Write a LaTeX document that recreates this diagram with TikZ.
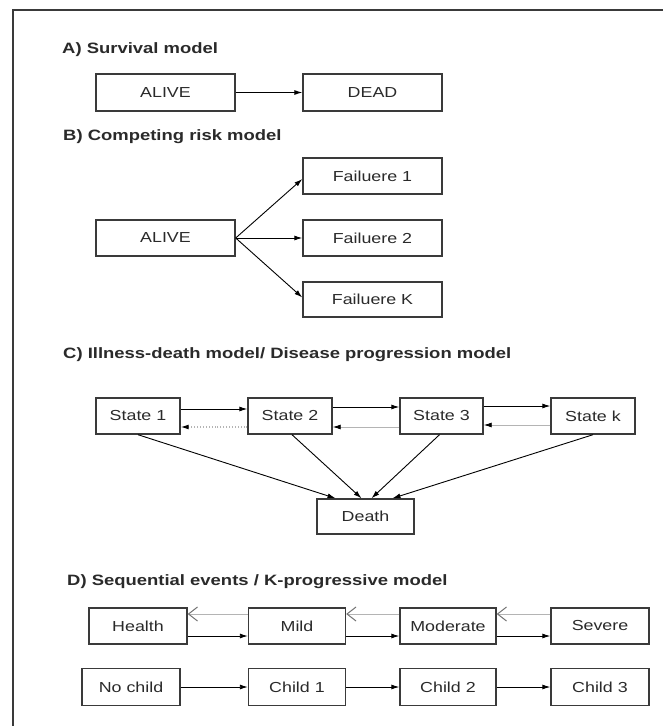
\documentclass[tikz,border=0pt]{standalone}
\usepackage{fontspec}
\newfontfamily\lab{Liberation Sans}[FakeStretch=1.23]
\usetikzlibrary{arrows.meta}
\definecolor{edge}{HTML}{3A3A3A}
\definecolor{ink}{HTML}{2A2A2A}
\definecolor{back}{HTML}{B4B4B4}
\tikzset{
  box/.style={draw=edge, line width=1.4pt, minimum height=36pt, inner sep=0pt,
    text=ink, font=\lab\fontsize{14.5}{17}\selectfont},
  ttl/.style={anchor=west, inner sep=0pt, text=ink,
    font=\lab\bfseries\fontsize{15}{18}\selectfont},
  fwd/.style={draw=black, line width=0.9pt, -{Latex[length=8pt,width=5pt]}},
  bck/.style={draw=back, line width=0.9pt, -{Latex[length=8pt,width=5pt,color=black]}},
  bckdot/.style={bck, dotted, line width=1.2pt},
  chev/.style={draw=back, line width=0.9pt, -{Straight Barb[length=9pt,width=14pt,line width=1pt,color=black!55]}}
}
\begin{document}
\begin{tikzpicture}[x=1pt,y=-1pt]
\useasboundingbox (0,0) rectangle (663,726);
\fill[white] (0,0) rectangle (663,726);
% frame
\draw[line width=2pt, edge] (12.5,726) -- (12.5,9.5) -- (663,9.5);

% A
\node[ttl] (ta) at (62,50) {A) Survival model};
\node[box, minimum width=139pt, minimum height=37pt] (alivea) at (165.5,92.5) {ALIVE};
\node[box, minimum width=139pt, minimum height=37pt] (dead) at (372.5,92.5) {DEAD};
\draw[fwd] (alivea.east) -- (dead.west);

% B
\node[ttl] (tb) at (63,137) {B) Competing risk model};
\node[box, minimum width=139pt] (aliveb) at (165.5,238) {ALIVE};
\node[box, minimum width=139pt] (f1) at (372.5,176) {Failuere 1};
\node[box, minimum width=139pt] (f2) at (372.5,238) {Failuere 2};
\node[box, minimum width=139pt, minimum height=35pt] (fk) at (372.5,299.5) {Failuere K};
\draw[fwd] (aliveb.east) -- ([yshift=-3pt]f1.west);
\draw[fwd] (aliveb.east) -- (f2.west);
\draw[fwd] (aliveb.east) -- ([yshift=2pt]fk.west);

% C
\node[ttl] (tc) at (63,355) {C) Illness-death model/ Disease progression model};
\node[box, minimum width=84pt] (s1) at (138,416) {State 1};
\node[box, minimum width=84pt] (s2) at (290,416) {State 2};
\node[box, minimum width=83pt] (s3) at (441.5,416) {State 3};
\node[box, minimum width=84pt] (sk) at (593,416) {State k};
\node[box, minimum width=97pt, minimum height=35pt] (death) at (365.5,516.5) {Death};
\draw[fwd] ([yshift=7pt]s1.east) -- ([yshift=7pt]s2.west);
\draw[fwd] ([yshift=9pt]s2.east) -- ([yshift=9pt]s3.west);
\draw[fwd] ([yshift=10pt]sk.west -| s3.east) -- ([yshift=10pt]sk.west);
\draw[bckdot] ([yshift=-11pt]s2.west) -- ([yshift=-11pt]s1.east);
\draw[bck] ([yshift=-11pt]s3.west) -- ([yshift=-11pt]s2.east);
\draw[bck] ([yshift=-9pt]sk.west) -- ([yshift=-9pt]s3.east);
\draw[fwd] (s1.south) -- ([xshift=-30pt]death.north);
\draw[fwd] ([xshift=2pt]s2.south) -- ([xshift=-4pt]death.north);
\draw[fwd] ([xshift=-2pt]s3.south) -- ([xshift=6pt]death.north);
\draw[fwd] (sk.south) -- ([xshift=27pt]death.north);

% D
\node[ttl] (td) at (67,582) {D) Sequential events / K-progressive model};
\node[box, minimum width=98pt] (health) at (138,626) {Health};
\node[box, minimum width=97pt] (mild) at (297,626) {Mild};
\node[box, minimum width=96pt] (moderate) at (448,626) {Moderate};
\node[box, minimum width=98pt] (severe) at (600,626) {Severe};
\draw[fwd] ([yshift=-10pt]health.east) -- ([yshift=-10pt]mild.west);
\draw[fwd] ([yshift=-10pt]mild.east) -- ([yshift=-10pt]moderate.west);
\draw[fwd] ([yshift=-10pt]moderate.east) -- ([yshift=-10pt]severe.west);
\draw[chev] ([yshift=12pt]mild.west) -- ([yshift=12pt]health.east);
\draw[chev] ([yshift=12pt]moderate.west) -- ([yshift=12pt]mild.east);
\draw[chev] ([yshift=12pt]severe.west) -- ([yshift=12pt]moderate.east);

\node[box, minimum width=98pt, minimum height=37pt] (nochild) at (131,687) {No child};
\node[box, minimum width=97pt, minimum height=37pt] (c1) at (297,687) {Child 1};
\node[box, minimum width=96pt, minimum height=37pt] (c2) at (448,687) {Child 2};
\node[box, minimum width=98pt, minimum height=37pt] (c3) at (600,687) {Child 3};
\draw[fwd] (nochild.east) -- (c1.west);
\draw[fwd] (c1.east) -- (c2.west);
\draw[fwd] (c2.east) -- (c3.west);
\end{tikzpicture}
\end{document}
